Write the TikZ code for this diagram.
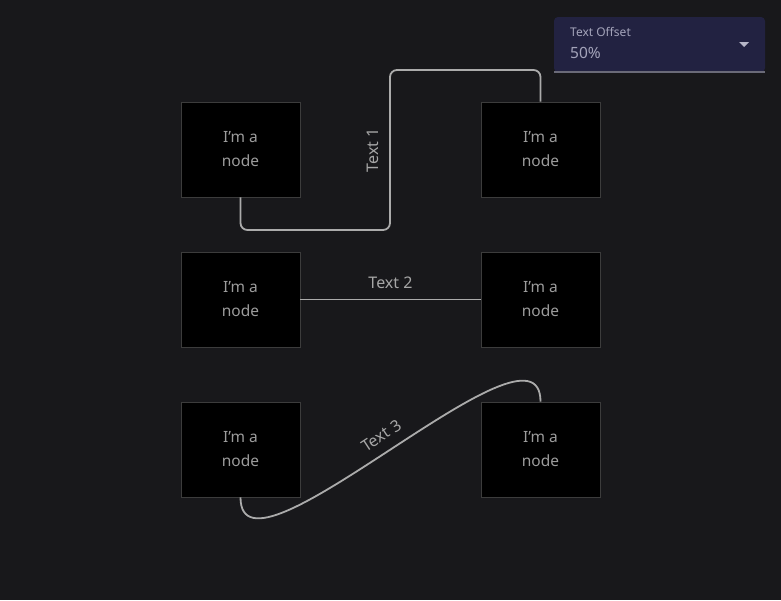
\documentclass[tikz,border=0pt]{standalone}
\usepackage{fontspec}
\setmainfont{Noto Sans}
\usetikzlibrary{arrows.meta,calc}
\definecolor{pagebg}{HTML}{18181B}
\definecolor{boxline}{HTML}{3C3C3C}
\definecolor{boxtext}{HTML}{9C9C9C}
\definecolor{wire}{HTML}{ABABAB}
\definecolor{wiretext}{HTML}{A6A6A6}
\definecolor{menubg}{HTML}{222241}
\definecolor{menuline}{HTML}{6A6A78}
\definecolor{menutext}{HTML}{A4A4BA}

\begin{document}
\begin{tikzpicture}[x=1pt,y=-1pt,
  nodebox/.style={draw=boxline, line width=0.8pt, fill=black, minimum width=119pt, minimum height=95pt,
    align=center, text=boxtext, font=\fontsize{15.5}{24}\selectfont},
  edgeline/.style={draw=wire, line width=1.8pt},
  edgetext/.style={text=wiretext, font=\fontsize{16}{18}\selectfont, inner sep=10pt}]
  % Page background
  \fill[pagebg] (0,0) rectangle (781,600);
  \useasboundingbox (0,0) rectangle (781,600);

  % Define node positions
  \def\leftx{240.5}
  \def\rightx{540.5}

  % Draw 3 rows of node pairs
  \foreach \r/\y in {1/149.5,2/299.5,3/449.5} {
    \node[nodebox] (l\r) at (\leftx,\y) {I'm a\\node};
    \node[nodebox] (r\r) at (\rightx,\y) {I'm a\\node};
  }

  % Row 1: step wire
  \draw[edgeline, rounded corners=7pt] (l1.south) -- (l1.south |- 0,230) -- (390,230)
    -- node[edgetext, midway, rotate=90, above] {Text 1} (390,70) -- (r1.north |- 0,70) -- (r1.north);

  % Row 2: straight wire
  \draw[edgeline] (l2.east) -- node[edgetext, above] {Text 2} (r2.west);

  % Row 3: bezier wire
  \draw[edgeline] (l3.south) .. controls +(0,100) and +(0,-100) .. node[edgetext, pos=0.5, sloped, above] {Text 3} (r3.north);

  % Text offset menu
  \node[fill=menubg, rounded corners=4pt, minimum width=211pt, minimum height=55pt, inner sep=0pt] (menu) at (659.5,44.5) {};
  \draw[menuline, line width=2pt] (menu.south west) -- (menu.south east);
  \node[anchor=west, inner sep=0pt, text=menutext, font=\fontsize{12}{14}\selectfont] (menulabel) at (570,32) {Text Offset};
  \node[anchor=west, inner sep=0pt, text=menutext, font=\fontsize{15.5}{18}\selectfont] (menuvalue) at (570,53) {50\%};
  \fill[menutext!80!white] (739,42) -- (749,42) -- (744,47) -- cycle;
\end{tikzpicture}
\end{document}
